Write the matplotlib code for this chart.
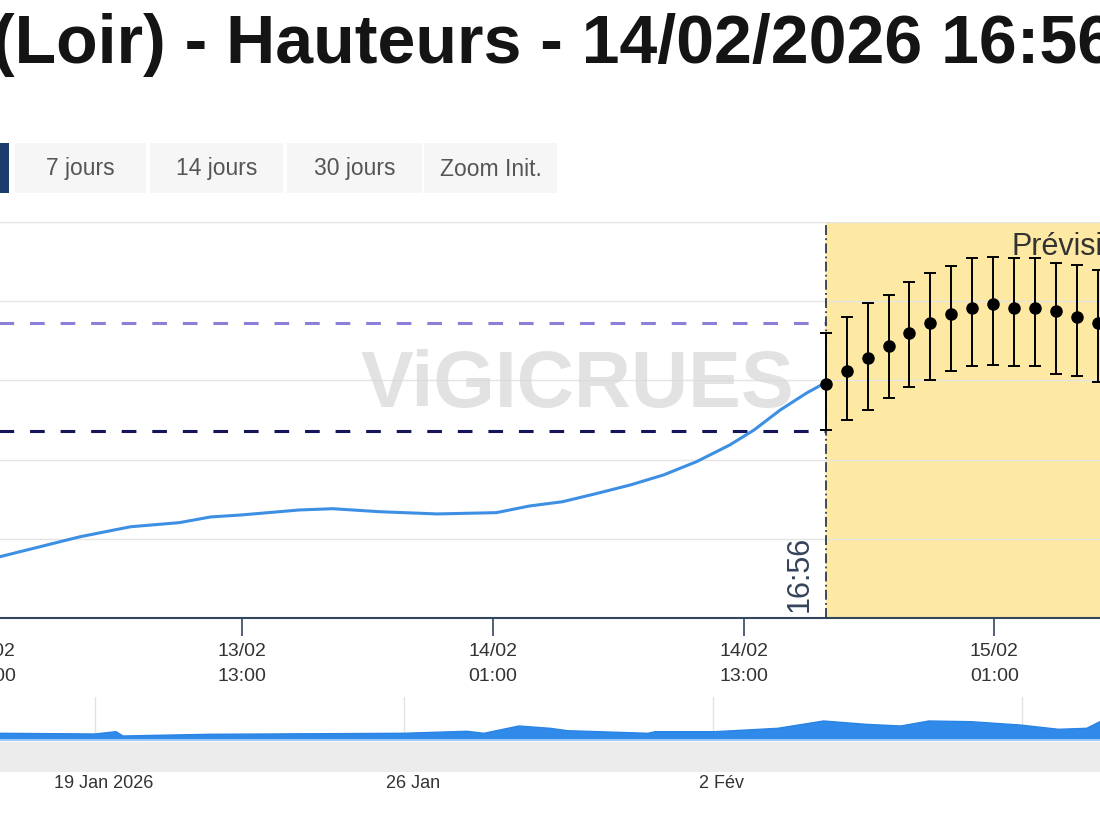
"""Vigicrues hydrogram: observed water heights, forecast with uncertainty, navigator strip."""
import matplotlib

matplotlib.use("Agg")

import matplotlib.dates as mdates
import matplotlib.pyplot as plt
import matplotlib.transforms as mtransforms
import pandas as pd
from matplotlib.patches import Rectangle

plt.rcParams["font.family"] = ["Liberation Sans", "DejaVu Sans"]

TITLE = "(Loir) - Hauteurs - 14/02/2026 16:56"
RANGE_BUTTONS = ["7 jours", "14 jours", "30 jours", "Zoom Init."]
WATERMARK = "ViGICRUES"
FORECAST_LABEL = "Prévision"
NOW_LABEL = "16:56"
NOW = "2026-02-14 16:56"

# observed heights (m)
OBS_TIMES = [
    "2026-02-13 00:30", "2026-02-13 01:25", "2026-02-13 03:20", "2026-02-13 05:15",
    "2026-02-13 07:40", "2026-02-13 10:00", "2026-02-13 11:30", "2026-02-13 12:55",
    "2026-02-13 15:45", "2026-02-13 17:20", "2026-02-13 19:35", "2026-02-13 22:20",
    "2026-02-14 01:10", "2026-02-14 02:45", "2026-02-14 04:20", "2026-02-14 06:00",
    "2026-02-14 07:35", "2026-02-14 09:10", "2026-02-14 10:45", "2026-02-14 12:20",
    "2026-02-14 13:30", "2026-02-14 14:45", "2026-02-14 16:00", "2026-02-14 16:56",
]
OBS_LEVELS = [
    1.35, 1.387, 1.45, 1.513,
    1.576, 1.602, 1.638, 1.650,
    1.682, 1.690, 1.671, 1.657,
    1.665, 1.707, 1.734, 1.787,
    1.840, 1.903, 1.987, 2.092,
    2.187, 2.313, 2.419, 2.487,
]

# forecast heights with lower / upper bounds (m)
FC_TIMES = [
    "2026-02-14 16:56", "2026-02-14 17:56", "2026-02-14 18:56", "2026-02-14 19:56",
    "2026-02-14 20:56", "2026-02-14 21:56", "2026-02-14 22:56", "2026-02-14 23:56",
    "2026-02-15 00:56", "2026-02-15 01:56", "2026-02-15 02:56", "2026-02-15 03:56",
    "2026-02-15 04:56", "2026-02-15 05:56",
]
FC_LEVELS = [2.48, 2.56, 2.64, 2.72, 2.80, 2.86, 2.92, 2.96, 2.98, 2.96, 2.96, 2.94, 2.90, 2.86]
FC_LOW = [2.19, 2.25, 2.31, 2.39, 2.46, 2.50, 2.56, 2.59, 2.60, 2.59, 2.59, 2.54, 2.53, 2.49]
FC_HIGH = [2.80, 2.90, 2.99, 3.04, 3.12, 3.18, 3.22, 3.27, 3.28, 3.27, 3.27, 3.24, 3.23, 3.20]

THRESHOLD_LEVELS = [2.86, 2.18]
THRESHOLD_COLORS = ["#8a80d8", "#14145a"]

GRID_LEVELS = [1.5, 2.0, 2.5, 3.0, 3.5]
MAIN_TICKS = [
    "2026-02-13 01:00", "2026-02-13 13:00", "2026-02-14 01:00",
    "2026-02-14 13:00", "2026-02-15 01:00",
]

# navigator: whole period overview
NAV_TIMES = [
    "2026-01-16 12:00", "2026-01-16 20:20", "2026-01-19 00:00", "2026-01-19 11:25",
    "2026-01-19 15:15", "2026-01-21 14:30", "2026-01-25 23:30", "2026-01-27 10:15",
    "2026-01-27 19:30", "2026-01-28 14:30", "2026-01-29 07:20", "2026-01-29 16:55",
    "2026-01-31 12:40", "2026-01-31 16:30", "2026-02-02 01:05", "2026-02-03 11:20",
    "2026-02-04 12:10", "2026-02-05 11:00", "2026-02-06 06:05", "2026-02-06 21:25",
    "2026-02-07 20:20", "2026-02-08 22:55", "2026-02-09 19:55", "2026-02-10 11:15",
    "2026-02-10 18:25", "2026-02-11 06:00",
]
NAV_LEVELS = [
    1.13, 1.135, 1.10, 1.215,
    1.00, 1.085, 1.135, 1.235,
    1.135, 1.50, 1.385, 1.265,
    1.135, 1.215, 1.215, 1.385,
    1.75, 1.585, 1.50, 1.75,
    1.715, 1.55, 1.335, 1.385,
    1.715, 1.90,
]
NAV_WEEKS = ["2026-01-19", "2026-01-26", "2026-02-02", "2026-02-09"]
NAV_LABELS = ["19 Jan 2026", "26 Jan", "2 Fév", ""]

W, H = 1100, 825


def fig_box(left, top, right, bottom):
    """Pixel box (from top-left) -> figure fraction [l, b, w, h]."""
    return [left / W, 1 - bottom / H, (right - left) / W, (bottom - top) / H]


def px_offset(fig, dx, dy):
    return mtransforms.ScaledTranslation(dx / fig.dpi, dy / fig.dpi, fig.dpi_scale_trans)


def main():
    fig = plt.figure(figsize=(W / 100, H / 100), dpi=100)
    fig.patch.set_facecolor("white")

    # title and range buttons
    fig.text(-8 / W, 1 - 63 / H, TITLE, fontsize=49, fontweight="bold",
             color="#141414", ha="left", va="baseline")
    fig.add_artist(Rectangle((-100 / W, 1 - 193 / H), 109 / W, 50 / H,
                             transform=fig.transFigure, color="#1d3b6b", lw=0))
    for label, (x0, x1) in zip(RANGE_BUTTONS, [(15, 146), (150, 283), (287, 422), (424, 557)]):
        fig.add_artist(Rectangle((x0 / W, 1 - 193 / H), (x1 - x0) / W, 50 / H,
                                 transform=fig.transFigure, color="#f6f6f6", lw=0))
        fig.text((x0 + x1) / 2 / W, 1 - 169 / H, label, fontsize=16.5, color="#555555",
                 ha="center", va="center")

    # main chart
    anchor = pd.Timestamp("2026-02-13 13:00")
    px_per_hour = 20.9
    left_px, right_px = -200, 1300
    xmin = anchor + pd.Timedelta(hours=(left_px - 242) / px_per_hour)
    xmax = anchor + pd.Timedelta(hours=(right_px - 242) / px_per_hour)
    now = pd.Timestamp(NOW)

    ax = fig.add_axes(fig_box(left_px, 222, right_px, 618))
    ax.set_xlim(xmin, xmax)
    ax.set_ylim(1.0, 3.5)

    ax.axvspan(now, xmax, color="#fde9a3", lw=0, zorder=0)
    ax.set_yticks(GRID_LEVELS)
    ax.yaxis.grid(True, color="#e4e4e4", lw=1)
    ax.set_axisbelow(True)
    ax.tick_params(axis="y", left=False, labelleft=False)

    # watermark sits left of the forecast start
    ax.text(mdates.date2num(now), 0.5, WATERMARK, fontsize=57, fontweight="bold",
            color="#d9d9d9", alpha=0.75, ha="center", va="center", zorder=1,
            transform=ax.get_xaxis_transform() + px_offset(fig, -248, 34))

    for level, color in zip(THRESHOLD_LEVELS, THRESHOLD_COLORS):
        ax.plot([xmin, now], [level, level], color=color, lw=2.2, dashes=(4.8, 5.2), zorder=2)

    ax.plot(pd.to_datetime(OBS_TIMES), OBS_LEVELS, color="#3d8fe3", lw=2.2, zorder=3)

    ax.axvline(now, color="#2c3b4e", lw=1.3, ls=(0, (5.5, 1.8, 1.0, 1.8)), zorder=4)

    fc_t = pd.to_datetime(FC_TIMES)
    yerr = [[v - lo for v, lo in zip(FC_LEVELS, FC_LOW)],
            [hi - v for v, hi in zip(FC_LEVELS, FC_HIGH)]]
    ax.errorbar(fc_t, FC_LEVELS, yerr=yerr, fmt="o", color="black", ms=8,
                capsize=4, elinewidth=1.4, capthick=1.4, zorder=5)

    ax.text(mdates.date2num(now), 0.0, NOW_LABEL, rotation=90, fontsize=22, color="#34435a",
            ha="right", va="bottom",
            transform=ax.get_xaxis_transform() + px_offset(fig, -11, 6))
    ax.text(mdates.date2num(now), 0.937, FORECAST_LABEL, fontsize=22, color="#333333",
            ha="left", va="center",
            transform=ax.get_xaxis_transform() + px_offset(fig, 186, 0))

    for side in ("top", "left", "right"):
        ax.spines[side].set_visible(False)
    ax.spines["bottom"].set_color("#34465e")
    ax.spines["bottom"].set_linewidth(1.5)
    ax.set_xticks(pd.to_datetime(MAIN_TICKS))
    ax.xaxis.set_major_formatter(mdates.DateFormatter("%d/%m\n%H:%M"))
    ax.tick_params(axis="x", direction="out", length=13, width=1.2, color="#34465e",
                   pad=5, labelsize=14, labelcolor="#333333")
    for lbl in ax.get_xticklabels():
        lbl.set_linespacing(1.65)

    # navigator
    nav_anchor = pd.Timestamp("2026-01-19")
    px_per_day = 44.14
    nmin = nav_anchor + pd.Timedelta(days=-95 / px_per_day)
    nmax = nav_anchor + pd.Timedelta(days=(1100 - 95) / px_per_day)
    nav = fig.add_axes(fig_box(0, 697, 1100, 740))
    nav.set_xlim(nmin, nmax)
    nav.set_ylim(0.8, 2.95)
    for wk in pd.to_datetime(NAV_WEEKS):
        nav.axvline(wk, color="#e2e2e2", lw=1, zorder=0)
    nav_t = pd.to_datetime(NAV_TIMES)
    nav.fill_between(nav_t, 0.8, NAV_LEVELS, color="#2f8ae9", lw=0, zorder=1)
    nav.plot(nav_t, NAV_LEVELS, color="#2a84e4", lw=1, zorder=2)
    for side in ("top", "left", "right"):
        nav.spines[side].set_visible(False)
    nav.spines["bottom"].set_color("#9ccaf6")
    nav.spines["bottom"].set_linewidth(1.5)
    nav.set_xticks([])
    nav.set_yticks([])
    for wk, label in zip(pd.to_datetime(NAV_WEEKS), NAV_LABELS):
        nav.text(mdates.date2num(wk), 0.0, label, fontsize=13, color="#333333",
                 ha="center", va="center",
                 transform=nav.get_xaxis_transform() + px_offset(fig, 9, -43))

    # scrollbar track
    fig.add_artist(Rectangle((0, 1 - 772 / H), 1, 30 / H, transform=fig.transFigure,
                             color="#ececec", lw=0))

    fig.savefig("out.png", dpi=100)
    plt.close(fig)


if __name__ == "__main__":
    main()
